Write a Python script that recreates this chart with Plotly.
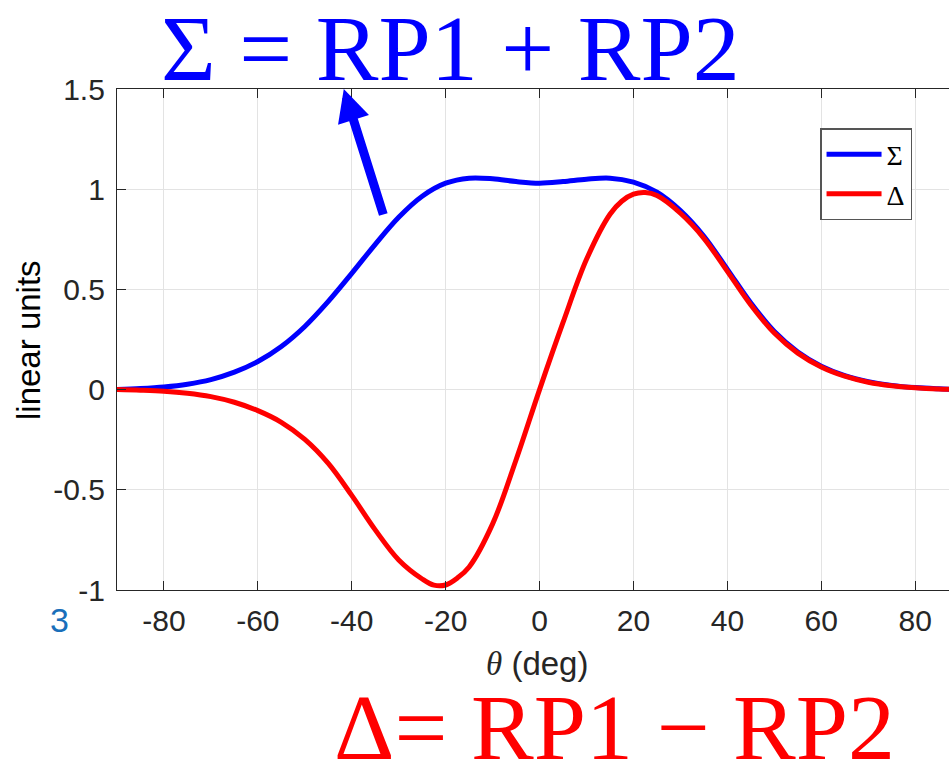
import plotly.graph_objects as go

theta_s = [-90, -85, -80, -75, -70, -65, -60, -55, -50, -45, -40, -35, -30, -25, -20, -15, -10, -5,
           0, 5, 10, 15, 20, 25, 30, 35, 40, 45, 50, 55, 60, 65, 70, 75, 80, 85, 90]
sigma = [0.0, 0.005, 0.013, 0.027, 0.05, 0.087, 0.14, 0.215, 0.315, 0.44, 0.58, 0.725, 0.86, 0.965,
         1.03, 1.055, 1.052, 1.038, 1.03, 1.038, 1.05, 1.055, 1.035, 0.985, 0.893, 0.765, 0.60, 0.432,
         0.29, 0.188, 0.117, 0.07, 0.04, 0.021, 0.01, 0.004, 0.0]

theta_d = [-90, -85, -80, -75, -70, -65, -60, -55, -50, -45, -40, -35, -30, -25, -22.5, -20, -17.5, -15,
           -10, -5, 0, 5, 10, 15, 17.5, 20, 22.5, 25, 30, 35, 40, 45, 50, 55, 60, 65, 70, 75, 80, 85, 90]
delta = [0.0, -0.003, -0.008, -0.018, -0.035, -0.063, -0.105, -0.163, -0.248, -0.368, -0.528, -0.70,
         -0.85, -0.945, -0.976, -0.975, -0.94, -0.885, -0.67, -0.35, 0.0, 0.335, 0.65, 0.875, 0.94,
         0.975, 0.983, 0.968, 0.88, 0.755, 0.59, 0.422, 0.282, 0.182, 0.113, 0.067, 0.037, 0.019,
         0.009, 0.003, 0.0]

x_ticks = [-80, -60, -40, -20, 0, 20, 40, 60, 80]
x_tick_text = ["-80", "-60", "-40", "-20", "0", "20", "40", "60", "80"]
y_ticks = [-1, -0.5, 0, 0.5, 1, 1.5]
y_tick_text = ["-1", "-0.5", "0", "0.5", "1", "1.5"]

AX = "#262626"
fig = go.Figure()
fig.add_trace(go.Scatter(x=theta_s, y=sigma, mode="lines", name="Σ",
                         line=dict(color="#0000ff", width=5, shape="spline", smoothing=1.0)))
fig.add_trace(go.Scatter(x=theta_d, y=delta, mode="lines", name="Δ",
                         line=dict(color="#ff0000", width=5, shape="spline", smoothing=1.0)))

fig.update_layout(
    width=949, height=759, autosize=False,
    margin=dict(l=117, r=0, t=89, b=169),
    paper_bgcolor="white", plot_bgcolor="white",
    font=dict(family="Liberation Sans", color=AX, size=30),
    showlegend=True,
    legend=dict(x=0.845, y=0.922, xanchor="left", yanchor="top",
                bgcolor="white", bordercolor="#555555", borderwidth=1.5,
                font=dict(family="Liberation Serif", size=28, color="black"),
                itemwidth=55, tracegroupgap=0),
    xaxis=dict(range=[-90, 87.2], tickvals=x_ticks, ticktext=x_tick_text, ticks="inside", ticklen=9,
               tickcolor=AX, showline=True, linecolor=AX, linewidth=1.2, mirror="ticks",
               showgrid=True, gridcolor="#e3e3e3", gridwidth=1, zeroline=False,
               tickfont=dict(size=30, color=AX), ticklabelstandoff=4),
    yaxis=dict(range=[-1, 1.5], tickvals=y_ticks, ticktext=y_tick_text, ticks="inside", ticklen=9,
               tickcolor=AX, showline=True, linecolor=AX, linewidth=1.2, mirror=False,
               showgrid=True, gridcolor="#e3e3e3", gridwidth=1, zeroline=False,
               tickfont=dict(size=30, color=AX), ticklabelstandoff=5),
)

annos = [
    dict(text="linear units", xref="paper", yref="paper", x=(28 - 117) / 832, y=(590 - 340) / 501,
         textangle=-90, showarrow=False, font=dict(size=33, color="black", family="Liberation Sans"),
         xanchor="center", yanchor="middle"),
    dict(text="<i><span style='font-family:Liberation Serif'>θ</span></i> (deg)", xref="paper",
         yref="paper", x=(537 - 117) / 832, y=(590 - 663) / 501, showarrow=False,
         font=dict(size=33, color=AX, family="Liberation Sans"), xanchor="center", yanchor="middle"),
    dict(text="3", xref="paper", yref="paper", x=(60 - 117) / 832, y=(590 - 620) / 501, showarrow=False,
         font=dict(size=34, color="#1a6fba", family="Liberation Sans"), xanchor="center", yanchor="middle"),
    dict(text="Σ = RP1 + RP2", xref="paper", yref="paper", x=(450 - 117) / 832, y=(590 - 48) / 501,
         showarrow=False, font=dict(size=94, color="#0000ff", family="Liberation Serif"),
         xanchor="center", yanchor="middle"),
    dict(text="Δ= RP1 − RP2", xref="paper", yref="paper", x=(614 - 117) / 832, y=(590 - 727) / 501,
         showarrow=False, font=dict(size=94, color="#ff0000", family="Liberation Serif"),
         xanchor="center", yanchor="middle"),
    dict(text="", x=-41.7, y=1.5, xref="x", yref="y", ax=40, ay=127, axref="pixel", ayref="pixel",
         showarrow=True, arrowhead=2, arrowsize=0.72, arrowwidth=9, arrowcolor="#0000ff"),
    dict(text="", x=25.3, y=-1.365, xref="x", yref="y", ax=-98, ay=-250, axref="pixel", ayref="pixel",
         showarrow=True, arrowhead=2, arrowsize=0.72, arrowwidth=9, arrowcolor="#ff0000"),
]
fig.update_layout(annotations=annos)
fig.write_html("out.html")
